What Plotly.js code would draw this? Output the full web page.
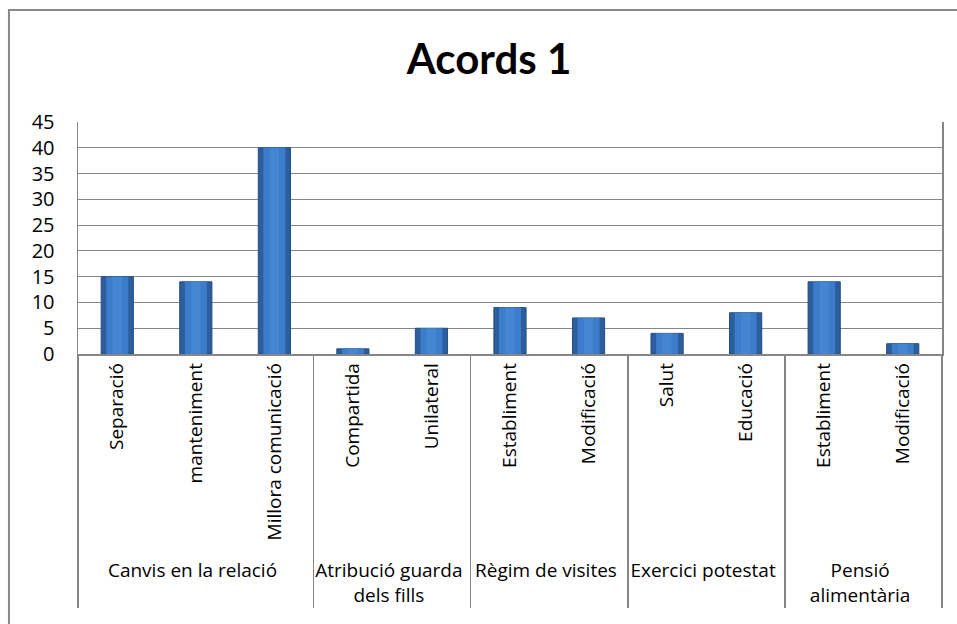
<!DOCTYPE html>
<html>
<head>
<meta charset="utf-8">
<script src="https://cdn.plot.ly/plotly-3.0.1.min.js"></script>
<style>
html,body{margin:0;padding:0;background:#fff;}
#chart{width:957px;height:624px;}
</style>
</head>
<body>
<div id="chart"></div>
<script>
const groups = ["Canvis en la relació","Canvis en la relació","Canvis en la relació",
  "Atribució guarda<br>dels fills","Atribució guarda<br>dels fills",
  "Règim de visites","Règim de visites",
  "Exercici potestat","Exercici potestat",
  "Pensió<br>alimentària","Pensió<br>alimentària"];
const subcats = ["Separació","manteniment","Millora comunicació",
  "Compartida","Unilateral",
  "Establiment","Modificació",
  "Salut","Educació",
  "Establiment","Modificació"];
const values = [15,14,40,1,5,9,7,4,8,14,2];
const yTicks = [0,5,10,15,20,25,30,35,40,45];

const FONT = "'Open Sans', sans-serif";
const TFONT = "Lato, 'Open Sans', sans-serif";
const x = [groups, subcats];

const traces = [
  {type:'bar', x:x, y:values, width:0.41,
   marker:{color:'#2c5d9c', line:{color:'#244f86', width:1}},
   hoverinfo:'y'},
  {type:'bar', x:x, y:values, width:0.28,
   marker:{color:'#3d7cca', line:{width:0}},
   hoverinfo:'skip'},
  {type:'bar', x:x, y:values, width:0.12,
   marker:{color:'#4586d3', line:{width:0}},
   hoverinfo:'skip'}
];

const layout = {
  width:957, height:624,
  margin:{l:78, r:15, t:122, b:270},
  paper_bgcolor:'#fff', plot_bgcolor:'#fff',
  barmode:'overlay',
  showlegend:false,
  font:{family:FONT, color:'#000'},
  title:{text:'<b>Acords 1</b>', font:{family:TFONT, size:42, color:'#000'},
         x:0.511, xanchor:'center', y:0.905, yanchor:'middle'},
  xaxis:{type:'multicategory', tickangle:-90, tickfont:{size:19, family:FONT},
         showline:true, linecolor:'#868686', linewidth:1.5, mirror:false,
         showgrid:false, ticks:'', showdividers:true, dividercolor:'#868686', dividerwidth:1.5},
  yaxis:{range:[0,45], tickvals:yTicks, ticktext:yTicks.map(String),
         tickfont:{size:20, family:FONT}, ticks:'', ticklabelstandoff:18,
         showgrid:true, gridcolor:'#868686', gridwidth:1.2,
         showline:true, linecolor:'#868686', linewidth:1.5, mirror:true, zeroline:false},
  shapes:[
    {type:'rect', xref:'paper', yref:'paper', x0:-0.0799, x1:1.03, y0:-1.2, y1:1.483,
     line:{color:'#8a8a8a', width:2}, fillcolor:'rgba(0,0,0,0)', layer:'below'}
  ]
};
Plotly.newPlot('chart', traces, layout, {displayModeBar:false, staticPlot:true});
</script>
</body>
</html>
